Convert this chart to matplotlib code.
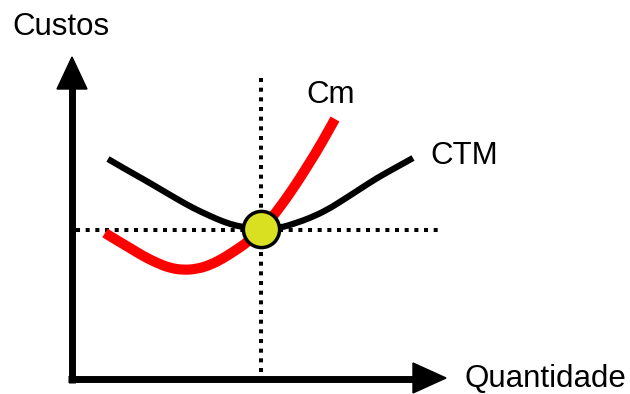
import matplotlib
matplotlib.use("Agg")
import matplotlib.pyplot as plt
from matplotlib.path import Path
from matplotlib.patches import PathPatch

# schematic drawn in pixel units (y grows downward)
W, H = 630, 394

# cost curves, points
ctm_x = [108, 125, 143, 160, 177, 193, 210, 224, 237, 250, 261, 280, 296, 310, 327, 343, 360, 377, 395, 413]
ctm_y = [159, 169, 179, 189, 199, 208, 216, 222, 226, 228, 229, 228, 223, 218, 210, 200, 189, 178, 168, 158]
cm_x = [105, 118, 130, 143, 157, 170, 183, 197, 210, 222, 233, 245, 253, 262, 270, 280, 290, 300, 310, 320, 335]
cm_y = [233, 241, 248, 256, 263, 268, 270, 269, 265, 259, 252, 244, 237, 229, 220, 207, 193, 178, 162, 146, 119]

# equilibrium point and guide lines
eq_x, eq_y = 261, 229
vguide_y = [78, 372]
hguide_x = [76, 440]

# axes with arrow heads
yaxis_x, yaxis_y = [71.7, 71.7], [382.5, 88]
xaxis_x, xaxis_y = [68.3, 414], [378.8, 378.8]
yhead_x, yhead_y = [57, 87, 72], [89, 89, 57]
xhead_x, xhead_y = [413, 413, 446], [363, 393, 378]


def smooth_path(xs, ys):
    # quadratic bezier through midpoints, the read points act as controls
    pts = list(zip(xs, ys))
    verts = [pts[0]]
    codes = [Path.MOVETO]
    for i in range(1, len(pts) - 1):
        mid = ((pts[i][0] + pts[i + 1][0]) / 2, (pts[i][1] + pts[i + 1][1]) / 2)
        if i == len(pts) - 2:
            mid = pts[-1]
        verts += [pts[i], mid]
        codes += [Path.CURVE3, Path.CURVE3]
    return Path(verts, codes)


fig = plt.figure(figsize=(6.3, 3.94), dpi=100)
ax = fig.add_axes([0, 0, 1, 1])
ax.set_xlim(0, W)
ax.set_ylim(H, 0)
ax.axis('off')

dots = (0, (1, 1.4))
ax.plot([eq_x, eq_x], vguide_y, color='black', lw=2.9, linestyle=dots, dash_capstyle='butt', zorder=1)
ax.plot(hguide_x, [eq_y + 1, eq_y + 1], color='black', lw=2.9, linestyle=dots, dash_capstyle='butt', zorder=1)

ax.plot(yaxis_x, yaxis_y, color='black', lw=5, solid_capstyle='butt', zorder=2)
ax.plot(xaxis_x, xaxis_y, color='black', lw=5, solid_capstyle='butt', zorder=2)
ax.fill(yhead_x, yhead_y, color='black', zorder=2)
ax.fill(xhead_x, xhead_y, color='black', zorder=2)

ax.add_patch(PathPatch(smooth_path(ctm_x, ctm_y), fill=False, edgecolor='black', lw=4.5,
                       capstyle='butt', joinstyle='round', zorder=3))
ax.add_patch(PathPatch(smooth_path(cm_x, cm_y), fill=False, edgecolor='#ff0000', lw=7.3,
                       capstyle='butt', joinstyle='round', zorder=4))

ax.scatter([eq_x], [eq_y], s=680, color='#d9e021', edgecolor='black', linewidth=2.5, zorder=5)

font = {'family': 'Liberation Sans', 'size': 22.5, 'color': 'black'}
ax.text(12, 35, "Custos", fontdict=font, ha='left', va='baseline')
ax.text(464, 387, "Quantidade", fontdict=font, ha='left', va='baseline')
ax.text(306, 103, "Cm", fontdict=font, ha='left', va='baseline')
ax.text(430, 164, "CTM", fontdict=font, ha='left', va='baseline')

fig.savefig("out.png", dpi=100)
